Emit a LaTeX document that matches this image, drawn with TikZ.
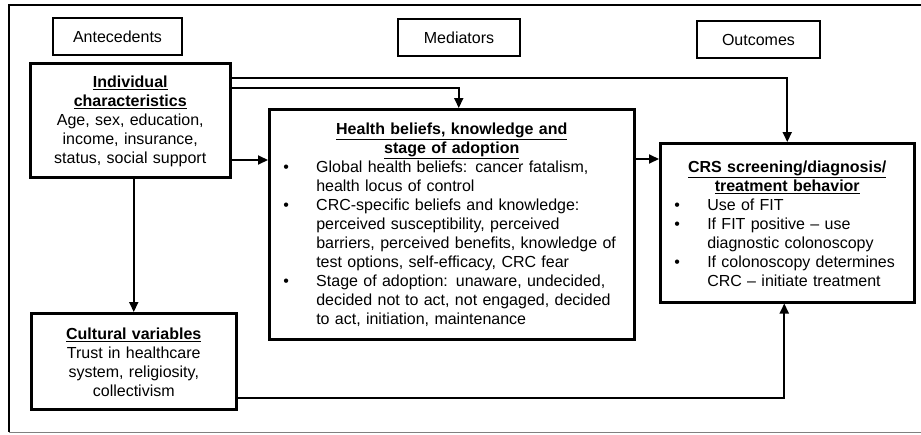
\documentclass[tikz,border=0pt]{standalone}
\usepackage{fontspec}
\setmainfont{Liberation Sans}
\usetikzlibrary{positioning,arrows.meta}

\newcommand\ttl[1]{\strut\smash{\underline{\textbf{#1}}}}
\newcommand\blt{\par\hangindent=37pt\hangafter=1\noindent\makebox[37pt][l]{\hspace{4pt}\textbullet}}

\begin{document}
\begin{tikzpicture}[x=1pt,y=-1pt,
	font=\fontsize{16}{19}\selectfont,
	hdr/.style={draw,line width=2pt,minimum height=37pt,inner sep=0pt},
	box/.style={draw,line width=2.5pt,anchor=north west,inner xsep=10pt,inner ysep=0pt},
	arr/.style={line width=2pt,-{Triangle[length=10pt,width=9pt]}}]

\useasboundingbox (0,0) rectangle (921,434);
\draw[line width=1.5pt] (930,5) -- (9,5) -- (9,432);
\draw[line width=1pt,gray] (9,432) -- (930,432);

% column headers
\foreach \n/\x/\y/\w/\t in {ante/117.5/36.5/129/Antecedents,med/459/37.5/122/Mediators,out/758.5/39.5/123/Outcomes}
	\node[hdr,minimum width=\w pt] (\n) at (\x,\y) {\t};

% boxes
\node[box,text width=180pt,minimum height=114pt,align=center] (indiv) at (29,62)
	{\ttl{Individual}\\\ttl{characteristics}\\Age, sex, education,\\income, insurance,\\status, social support};
\node[box,text width=185pt,minimum height=96pt,align=center] (cult) at (30,312)
	{\ttl{Cultural variables}\\Trust in healthcare\\system, religiosity,\\collectivism};
\node[box,text width=345pt,minimum height=230pt,align=left] (health) at (268,108)
	{{\centering\ttl{Health beliefs, knowledge and}\\\ttl{stage of adoption}\par}
	\blt Global health beliefs: cancer fatalism,\newline health locus of control
	\blt CRC-specific beliefs and knowledge:\newline perceived susceptibility, perceived\newline barriers, perceived benefits, knowledge of\newline test options, self-efficacy, CRC fear
	\blt Stage of adoption: unaware, undecided,\newline decided not to act, not engaged, decided\newline to act, initiation, maintenance\par};
\node[box,text width=234pt,minimum height=159pt,align=left] (crs) at (659,142)
	{{\centering\ttl{CRS screening/diagnosis/}\\\ttl{treatment behavior}\par}
	\blt Use of FIT
	\blt If FIT positive -- use\newline diagnostic colonoscopy
	\blt If colonoscopy determines\newline CRC -- initiate treatment\par};

% arrows
\draw[arr] ([yshift=-16]indiv.north east) -| (crs.north);
\draw[arr] ([yshift=-26]indiv.north east) -| ([xshift=7]health.north);
\draw[arr] (indiv.east |- 0,160) -- (health.west |- 0,160);
\draw[arr] (health.east |- 0,159) -- (crs.west |- 0,159);
\draw[arr] (indiv.south -| cult.north) -- (cult.north);
\draw[arr] (cult.east |- 0,398) -| ([xshift=-3]crs.south);

\end{tikzpicture}
\end{document}
